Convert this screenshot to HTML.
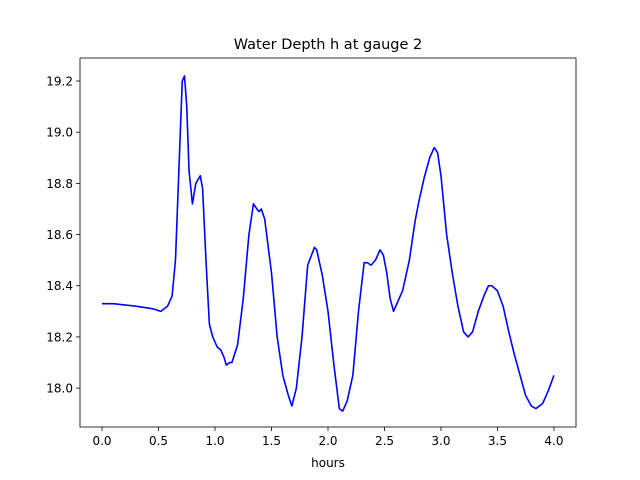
<!DOCTYPE html>
<html><head><meta charset="utf-8"><style>body{margin:0;background:#fff}svg{display:block;font-family:"DejaVu Sans","Liberation Sans",sans-serif}</style></head>
<body>
<svg id="chart" width="640" height="480"></svg>
<script>
const hours=[0,0.1,0.3,0.45,0.52,0.58,0.62,0.65,0.68,0.71,0.73,0.75,0.77,0.8,0.83,0.87,0.89,0.92,0.95,0.98,1.02,1.05,1.08,1.1,1.13,1.15,1.2,1.25,1.3,1.34,1.37,1.39,1.41,1.44,1.5,1.55,1.6,1.65,1.68,1.72,1.77,1.82,1.88,1.9,1.95,2.0,2.05,2.1,2.13,2.17,2.22,2.27,2.32,2.35,2.38,2.42,2.46,2.49,2.52,2.55,2.58,2.62,2.66,2.72,2.77,2.8,2.85,2.9,2.94,2.97,3.0,3.05,3.1,3.15,3.2,3.24,3.28,3.33,3.38,3.42,3.45,3.5,3.55,3.6,3.65,3.7,3.75,3.8,3.84,3.9,3.95,4.0];
const depth=[18.33,18.33,18.32,18.31,18.30,18.32,18.36,18.5,18.85,19.20,19.22,19.1,18.85,18.72,18.8,18.83,18.78,18.5,18.25,18.2,18.16,18.15,18.12,18.09,18.10,18.10,18.17,18.35,18.6,18.72,18.70,18.69,18.70,18.66,18.45,18.2,18.05,17.97,17.93,18.0,18.2,18.48,18.55,18.54,18.44,18.3,18.1,17.92,17.91,17.95,18.05,18.3,18.49,18.49,18.48,18.50,18.54,18.52,18.45,18.35,18.30,18.34,18.38,18.50,18.65,18.72,18.82,18.90,18.94,18.92,18.83,18.6,18.45,18.32,18.22,18.20,18.22,18.30,18.36,18.40,18.40,18.38,18.32,18.22,18.13,18.05,17.97,17.93,17.92,17.94,17.99,18.05];
const xTicks=["0.0","0.5","1.0","1.5","2.0","2.5","3.0","3.5","4.0"];
const yTicks=["18.0","18.2","18.4","18.6","18.8","19.0","19.2"];
const NS="http://www.w3.org/2000/svg";
const svg=document.getElementById('chart');
const L=80,R=576,T=58,B=427;
const xMin=-0.195,xMax=4.195,yMin=17.848,yMax=19.29;
const X=v=>L+(v-xMin)/(xMax-xMin)*(R-L);
const Y=v=>B-(v-yMin)/(yMax-yMin)*(B-T);
function mk(t,a){const e=document.createElementNS(NS,t);for(const k in a)e.setAttribute(k,a[k]);svg.appendChild(e);return e;}
const pl=mk('polyline',{points:hours.map((h,i)=>X(h)+','+Y(depth[i])).join(' '),fill:'none',stroke:'#0000ff','stroke-width':1.6,'stroke-linejoin':'round'});


xTicks.forEach(t=>{const x=X(parseFloat(t));
const l=mk('line',{x1:x,x2:x,y1:B,y2:B+4,stroke:'#000','stroke-width':0.8});


const tx=mk('text',{x:x,y:B+18,'text-anchor':'middle','font-size':'12px'});tx.textContent=t;

});
yTicks.forEach(t=>{const y=Y(parseFloat(t));
const l=mk('line',{x1:L-4,x2:L,y1:y,y2:y,stroke:'#000','stroke-width':0.8});


const tx=mk('text',{x:L-7,y:y+4.5,'text-anchor':'end','font-size':'12px'});tx.textContent=t;

});
const fr=mk('rect',{x:L,y:T,width:R-L,height:B-T,fill:'none',stroke:'#000','stroke-width':0.8});


const ti=mk('text',{x:(L+R)/2,y:T-9,'text-anchor':'middle','font-size':'14.5px'});ti.textContent='Water Depth h at gauge 2';


const xl=mk('text',{x:(L+R)/2,y:B+40,'text-anchor':'middle','font-size':'12px'});xl.textContent='hours';


</script>
</body></html>
